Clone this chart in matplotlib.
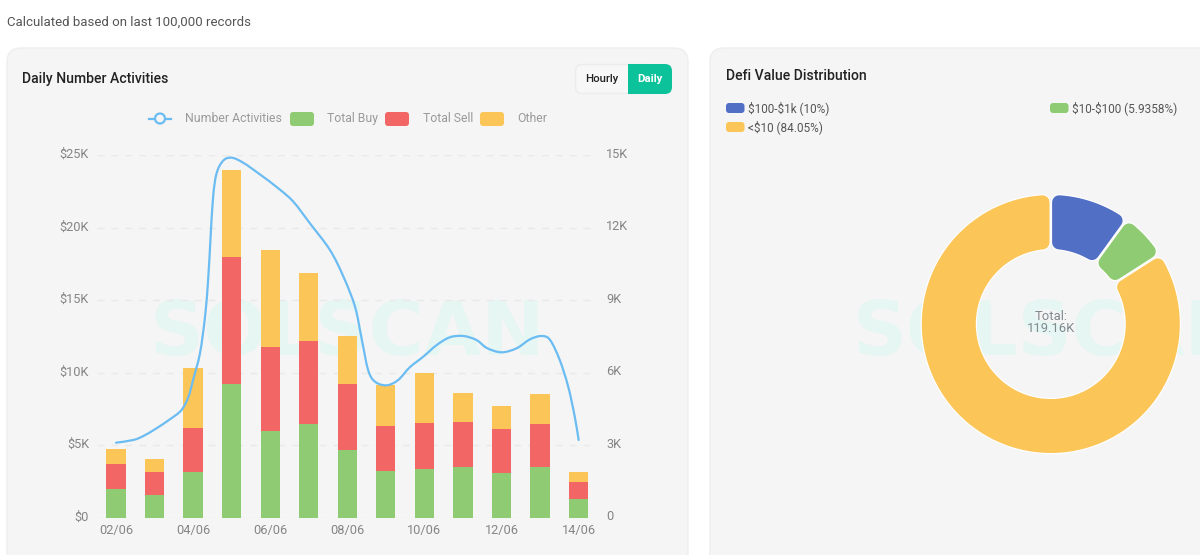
import numpy as np
import matplotlib
matplotlib.use("Agg")
import matplotlib.pyplot as plt
from matplotlib.patches import FancyBboxPatch, Rectangle, Circle, PathPatch
from matplotlib.path import Path
from matplotlib.lines import Line2D
from matplotlib.transforms import ScaledTranslation

plt.rcParams['font.family'] = ['Roboto', 'DejaVu Sans']

days = ['02/06', '03/06', '04/06', '05/06', '06/06', '07/06', '08/06',
        '09/06', '10/06', '11/06', '12/06', '13/06', '14/06']
total_buy = [1945, 1550, 3140, 9186, 5966, 6425, 4630, 3230, 3320, 3460, 3050, 3460, 1255]
total_sell = [1745, 1610, 3050, 8774, 5814, 5725, 4556, 3080, 3175, 3150, 3030, 2990, 1195]
other = [1034, 850, 4120, 6000, 6670, 4710, 3334, 2810, 3445, 1980, 1630, 2070, 690]

line_pos = [0.00, 0.45, 0.71, 1.01, 1.40, 1.70, 1.88, 2.00, 2.18, 2.31, 2.39, 2.45, 2.52, 2.61, 2.78,
            3.00, 3.30, 3.73, 4.21, 4.60, 5.03, 5.55, 5.90, 6.20, 6.37, 6.54, 6.72, 7.02, 7.32,
            7.62, 7.97, 8.32, 8.66, 9.01, 9.35, 9.62, 10.00, 10.39, 10.74, 11.04, 11.26, 11.51,
            11.73, 11.90, 12.00]
line_vals = [3095, 3207, 3372, 3650, 4063, 4448, 4999, 5690, 6807, 8309, 9828, 11483, 13275, 14243, 14764,
             14888, 14681, 14201, 13622, 13068, 12174, 11069, 9964, 8723, 7415, 6104, 5619, 5470, 5690,
             6215, 6654, 7138, 7457, 7510, 7345, 7014, 6836, 7002, 7374, 7510, 7345, 6517,
             5413, 4171, 3207]

left_ticks = [0, 5000, 10000, 15000, 20000, 25000]
left_labels = ['$0', '$5K', '$10K', '$15K', '$20K', '$25K']
right_ticks = [0, 3000, 6000, 9000, 12000, 15000]
right_labels = ['0', '3K', '6K', '9K', '12K', '15K']

pie_labels = ['$100-$1k (10%)', '$10-$100 (5.9358%)', '<$10 (84.05%)']
pie_values = [10, 5.9358, 84.05]

GREEN, RED, ORANGE, BLUE, LINE = '#8fcb72', '#f26666', '#fcc558', '#526fc6', '#6bbcf2'
PANEL, GRID, TICK = '#f5f5f5', '#e9e9e9', '#858585'

W, H = 1200, 555
fig = plt.figure(figsize=(W / 100, H / 100), dpi=100, facecolor='white')

def px_axes(x0, y0, x1, y1, **kw):
    return fig.add_axes([x0 / W, 1 - y1 / H, (x1 - x0) / W, (y1 - y0) / H], **kw)

# canvas in pixel coordinates
bg = px_axes(0, 0, W, H, zorder=0)
bg.set_xlim(0, W); bg.set_ylim(H, 0); bg.axis('off')

for x0, x1 in [(7, 688), (710, 1290)]:
    bg.add_patch(FancyBboxPatch((x0, 48), x1 - x0, 600,
                                boxstyle='round,pad=0,rounding_size=14',
                                fc=PANEL, ec='#eeeeee', lw=1))

wm = dict(family='DejaVu Sans', weight='bold', fontsize=54, color='#e6f6f2', va='center', ha='left')
bg.text(150, 334, 'SOLSCAN', **wm)
bg.text(853, 334, 'SOLSCAN', clip_on=True, **wm)

bg.text(7, 22, 'Calculated based on last 100,000 records', fontsize=9.5, color='#555555', va='center')
bg.text(22, 78.5, 'Daily Number Activities', fontsize=10.1, color='#222222', va='center', weight='medium')
bg.text(725.5, 75.5, 'Defi Value Distribution', fontsize=10.1, color='#222222', va='center', weight='medium')

# Hourly / Daily switch
bg.add_patch(FancyBboxPatch((575.5, 64.5), 80, 29, boxstyle='round,pad=0,rounding_size=7',
                            fc='#f7f7f7', ec='#ececec', lw=1))
bg.add_patch(FancyBboxPatch((628, 64), 44, 30, boxstyle='round,pad=0,rounding_size=7',
                            fc='#0cc29a', ec='none'))
bg.add_patch(Rectangle((628, 64), 10, 30, fc='#0cc29a', ec='none'))
bg.text(602, 78.5, 'Hourly', fontsize=8.2, color='#222222', va='center', ha='center', weight='medium')
bg.text(650, 78.5, 'Daily', fontsize=8.2, color='white', va='center', ha='center', weight='bold')

# chart legend
LEG = '#9a9a9a'
bg.add_line(Line2D([149, 171], [118.5, 118.5], color=LINE, lw=1.6))
bg.add_patch(Circle((160, 118.5), 5, fc=PANEL, ec=LINE, lw=1.6, zorder=3))
bg.text(185, 118.5, 'Number Activities', fontsize=8.8, color=LEG, va='center')
for x, c, t, tx in [(290, GREEN, 'Total Buy', 327), (385, RED, 'Total Sell', 423), (480, ORANGE, 'Other', 517)]:
    bg.add_patch(FancyBboxPatch((x, 112), 24, 14, boxstyle='round,pad=0,rounding_size=3', fc=c, ec='none'))
    bg.text(tx, 118.5, t, fontsize=8.8, color=LEG, va='center')

# donut legend
for x, y, c, t in [(726, 108, BLUE, pie_labels[0]), (1050, 108, GREEN, pie_labels[1]), (726, 127, ORANGE, pie_labels[2])]:
    bg.add_patch(FancyBboxPatch((x, y - 5), 18.5, 10, boxstyle='round,pad=0,rounding_size=3', fc=c, ec='none'))
    bg.text(x + 22.5, y, t, fontsize=8.5, color='#555555', va='center', parse_math=False)

# bars + line
ax = px_axes(96.7, 155, 597.9, 517.5, zorder=2)
ax.patch.set_alpha(0)
x = np.arange(len(days))
buy = np.array(total_buy); sell = np.array(total_sell); oth = np.array(other)
ax.bar(x, buy, 0.5, color=GREEN, zorder=3)
ax.bar(x, sell, 0.5, bottom=buy, color=RED, zorder=3)
ax.bar(x, oth, 0.5, bottom=buy + sell, color=ORANGE, zorder=3)
ax.set_xlim(-0.5, 12.5); ax.set_ylim(0, 25000)
ax.set_yticks(left_ticks, left_labels)
ax.set_xticks(x[::2], days[::2])
ax.tick_params(axis='y', length=0, pad=5.5, labelsize=9.2, labelcolor=TICK)
ax.tick_params(axis='x', length=0, pad=4.5, labelsize=9.2, labelcolor=TICK)
ax.grid(axis='y', color=GRID, lw=1, ls=(0, (5, 5)), zorder=0)
for s in ax.spines.values():
    s.set_visible(False)

ax2 = ax.twinx()
ax2.patch.set_alpha(0)
ax2.set_ylim(0, 15000)
ax2.set_yticks(right_ticks, right_labels)
ax2.tick_params(axis='y', length=0, pad=6, labelsize=9.2, labelcolor=TICK)
for s in ax2.spines.values():
    s.set_visible(False)

up = ScaledTranslation(0, 1.5 / 72, fig.dpi_scale_trans)
for lab in ax.get_yticklabels() + ax2.get_yticklabels():
    lab.set_transform(lab.get_transform() + up)

# smooth curve through the values (Catmull-Rom as Bezier)
P = np.column_stack([line_pos, line_vals]).astype(float)
verts = [P[0]]; codes = [Path.MOVETO]
for i in range(len(P) - 1):
    p0 = P[max(i - 1, 0)]; p1 = P[i]; p2 = P[i + 1]; p3 = P[min(i + 2, len(P) - 1)]
    verts += [p1 + (p2 - p0) / 6, p2 - (p3 - p1) / 6, p2]
    codes += [Path.CURVE4] * 3
ax2.add_patch(PathPatch(Path(verts, codes), fc='none', ec=LINE, lw=1.6, zorder=5, capstyle='round'))

# donut: slice angles come from pie(); each is redrawn with parallel gaps and rounded corners
R, r, rc, gap = 129, 75, 7, 1.3
pax = px_axes(1050.8 - 145, 324 - 145, 1050.8 + 145, 324 + 145, zorder=2)
wedges, _ = pax.pie(pie_values, colors=[BLUE, GREEN, ORANGE], startangle=90, counterclock=False,
                    radius=R, wedgeprops=dict(width=R - r))
pax.set_xlim(-145, 145); pax.set_ylim(-145, 145); pax.set_aspect('equal')

def slice_path(t1, t2, d, ro, ri):
    a = np.degrees(np.arcsin(d / ro)); b = np.degrees(np.arcsin(d / ri))
    to = np.radians(np.linspace(t1 + a, t2 - a, 160))
    ti = np.radians(np.linspace(t2 - b, t1 + b, 160))
    xy = np.r_[np.c_[ro * np.cos(to), ro * np.sin(to)], np.c_[ri * np.cos(ti), ri * np.sin(ti)]]
    return Path(np.r_[xy, xy[:1]], closed=True)

for w in wedges:
    w.set_visible(False)
    path = slice_path(w.theta1, w.theta2, rc + gap, R - rc, r + rc)
    pax.add_patch(PathPatch(path, fc='white', ec='white', lw=2 * (rc + 1.2) * 0.72, joinstyle='round', zorder=1))
for w in wedges:
    path = slice_path(w.theta1, w.theta2, rc + gap, R - rc, r + rc)
    pax.add_patch(PathPatch(path, fc=w.get_facecolor(), ec=w.get_facecolor(), lw=2 * rc * 0.72,
                            joinstyle='round', zorder=2))

pax.text(0, 7.5, 'Total:', fontsize=9.4, color='#7f8a8f', ha='center', va='center', zorder=5)
pax.text(0, -5, '119.16K', fontsize=9.4, color='#7f8a8f', ha='center', va='center', zorder=5)

fig.savefig('out.png', dpi=100)
